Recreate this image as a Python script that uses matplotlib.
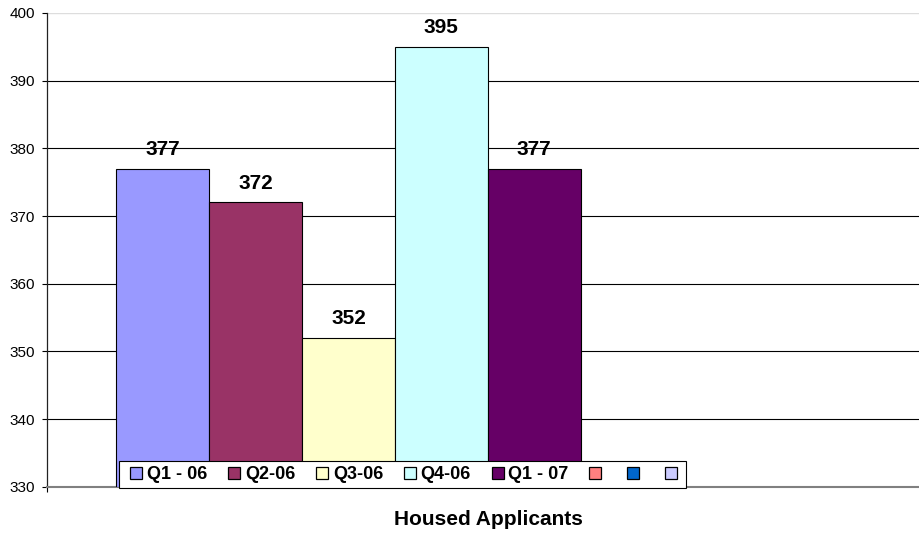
import matplotlib.pyplot as plt
from matplotlib.lines import Line2D

plt.rcParams['font.family'] = ['Liberation Sans', 'DejaVu Sans']

# data
series = ['Q1 - 06', 'Q2-06', 'Q3-06', 'Q4-06', 'Q1 - 07', '', '', '']
values = [377, 372, 352, 395, 377, None, None, None]
colors = ['#9999FF', '#993366', '#FFFFCC', '#CCFFFF', '#660066',
          '#FF8080', '#0066CC', '#CCCCFF']
y_ticks = [330, 340, 350, 360, 370, 380, 390, 400]
x_title = 'Housed Applicants'

W, H = 919, 533
fig = plt.figure(figsize=(W / 100, H / 100), dpi=100)
ax = fig.add_axes([46.7 / W, 46.3 / H, (W - 46.7) / W, (486.7 - 13) / H])

# one category, eight series side by side (bar width = 1 unit)
for i, (v, c) in enumerate(zip(values, colors)):
    if v is None:
        continue
    ax.bar(i, v - y_ticks[0], bottom=y_ticks[0], width=1.0, color=c,
           edgecolor='black', linewidth=0.8, zorder=3)
    ax.annotate(str(v), (i, v), xytext=(0, 9.7), textcoords='offset points',
                ha='center', va='baseline', fontsize=15, fontweight='bold',
                zorder=4)

ax.set_xlim(-1.25, 8.145)
ax.set_ylim(y_ticks[0], y_ticks[-1])

# gridlines
for t in y_ticks[1:-1]:
    ax.axhline(t, color='black', linewidth=0.8, zorder=1)
ax.axhline(y_ticks[-1], color='#dddddd', linewidth=1.0, zorder=1)

ax.set_yticks(y_ticks)
ax.set_xticks([-1.25])
ax.set_xticklabels([])
ax.tick_params(axis='y', direction='out', length=3.4, width=0.8,
               labelsize=11, pad=5)
ax.tick_params(axis='x', direction='out', length=3.4, width=0.8)

for s in ['top', 'right']:
    ax.spines[s].set_visible(False)
ax.spines['left'].set_color('#222222')
ax.spines['left'].set_linewidth(0.9)
ax.spines['bottom'].set_color('#808080')
ax.spines['bottom'].set_linewidth(1.5)

# legend across the bottom of the plot
handles = [Line2D([], [], linestyle='none', marker='s', markersize=8.3,
                  markerfacecolor=c, markeredgecolor='black',
                  markeredgewidth=0.9) for c in colors]
leg = fig.legend(handles, series, loc='upper left',
                 bbox_to_anchor=(119 / W, 1 - 461 / H), ncol=8,
                 frameon=True, fancybox=False, edgecolor='black',
                 framealpha=1, borderaxespad=0, borderpad=0.27,
                 handlelength=1.39, handletextpad=-0.1, columnspacing=0.79,
                 prop={'size': 13, 'weight': 'bold'})
leg.get_frame().set_linewidth(0.8)
leg.set_zorder(10)

fig.text(488 / W, 1 - 525 / H, x_title, ha='center', va='baseline',
         fontsize=15, fontweight='bold')

fig.savefig('out.png', dpi=100)
